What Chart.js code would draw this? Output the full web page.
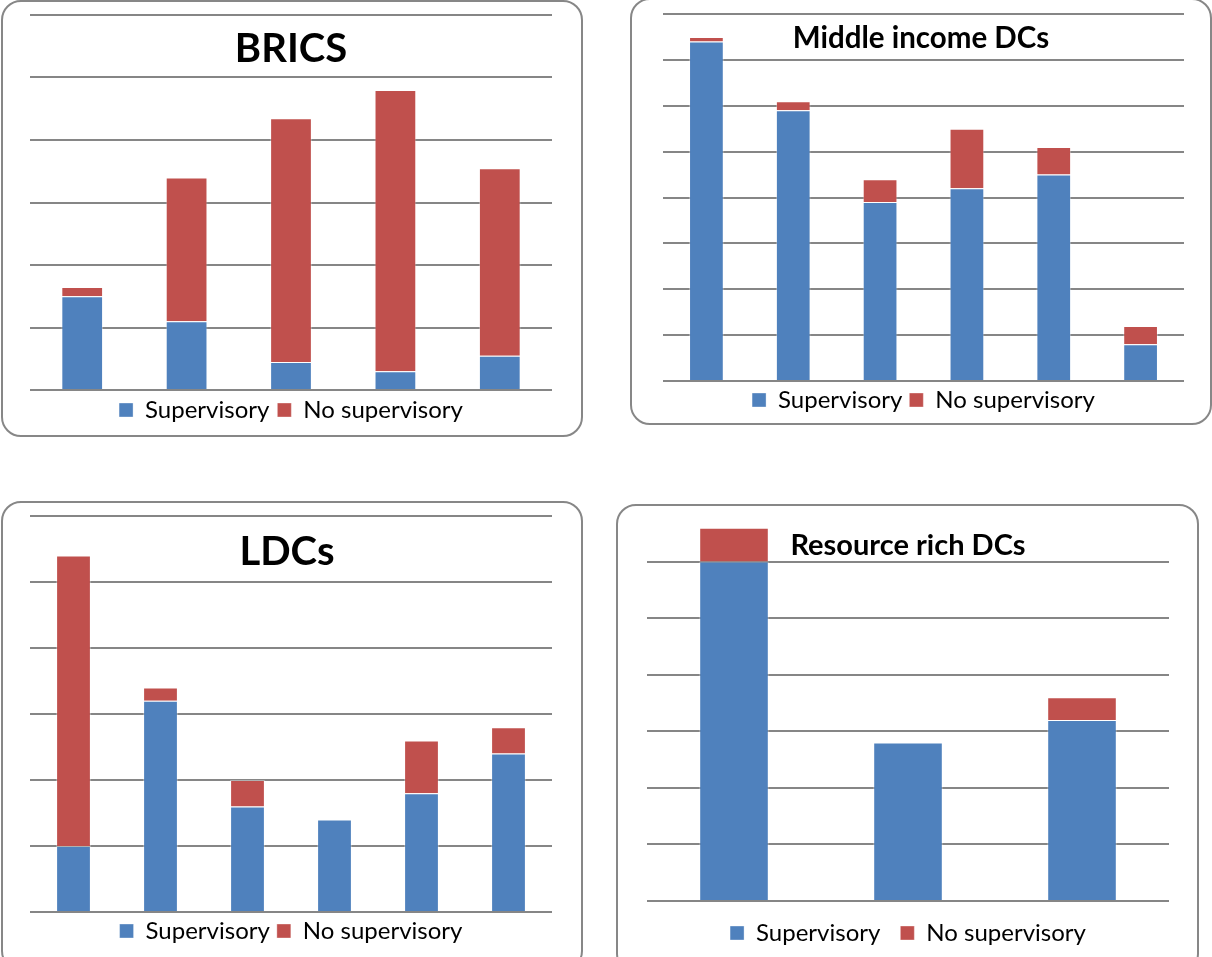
<!DOCTYPE html>
<html>
<head>
<meta charset="utf-8">
<script src="https://cdn.jsdelivr.net/npm/chart.js@4"></script>
<style>
  html, body { margin: 0; padding: 0; background: #fff; width: 1212px; height: 957px; overflow: hidden; }
  .panel { position: absolute; }
  .frame { position: absolute; box-sizing: border-box; border: 2px solid #878787; border-radius: 20px; pointer-events: none; }
</style>
</head>
<body>
<script>
// Series labels
const seriesNames = ['Supervisory', 'No supervisory'];

// BRICS
const bricsCats = ['C1', 'C2', 'C3', 'C4', 'C5'];
const bricsSup = [1.5, 1.1, 0.45, 0.3, 0.55];
const bricsNo = [0.15, 2.3, 3.9, 4.5, 3.0];

// Middle income DCs
const midCats = ['C1', 'C2', 'C3', 'C4', 'C5', 'C6'];
const midSup = [7.4, 5.9, 3.9, 4.2, 4.5, 0.8];
const midNo = [0.1, 0.2, 0.5, 1.3, 0.6, 0.4];

// LDCs
const ldcCats = ['C1', 'C2', 'C3', 'C4', 'C5', 'C6'];
const ldcSup = [1.0, 3.2, 1.6, 1.4, 1.8, 2.4];
const ldcNo = [4.4, 0.2, 0.4, 0, 0.8, 0.4];

// Resource rich DCs
const resCats = ['C1', 'C2', 'C3'];
const resSup = [6.0, 2.8, 3.2];
const resNo = [0.6, 0, 0.4];

const BLUE = '#4F81BD';
const RED = '#C0504D';
const GRID = '#868686';

// title drawn over the plot, like the Excel overlay title
const overlayTitle = {
    id: 'overlayTitle',
    afterDraw(chart, args, opts) {
        const ctx = chart.ctx;
        ctx.save();
        ctx.font = `bold ${opts.size}px Lato`;
        ctx.fillStyle = '#000';
        ctx.textAlign = 'center';
        ctx.textBaseline = 'alphabetic';
        ctx.fillText(opts.text, opts.x, opts.y);
        ctx.restore();
    }
};

function makePanel(p) {
    // p.box is the frame in page coords, p.plot the target chart area
    const wrap = document.createElement('div');
    wrap.className = 'panel';
    wrap.style.left = p.box.left + 'px';
    wrap.style.top = p.box.top + 'px';
    wrap.style.width = p.box.width + 'px';
    wrap.style.height = p.box.height + 'px';
    const canvas = document.createElement('canvas');
    wrap.appendChild(canvas);
    document.body.appendChild(wrap);

    const frame = document.createElement('div');
    frame.className = 'frame';
    frame.style.left = p.box.left + 'px';
    frame.style.top = p.box.top + 'px';
    frame.style.width = p.box.width + 'px';
    frame.style.height = p.box.height + 'px';
    document.body.appendChild(frame);

    const itemH = 24;
    const below = p.box.top + p.box.height - p.plot.bottom;
    const legPad = p.legendPad != null ? p.legendPad : Math.round(p.legendY - p.plot.bottom - itemH / 2);
    const legH = itemH + legPad + 10;

    new Chart(canvas, {
        type: 'bar',
        data: {
            labels: p.cats,
            datasets: [
                { label: seriesNames[0], data: p.sup, backgroundColor: BLUE, borderColor: 'rgba(255,255,255,0.35)', borderWidth: 1 },
                { label: seriesNames[1], data: p.no, backgroundColor: RED, borderColor: 'rgba(255,255,255,0.35)', borderWidth: 1 }
            ]
        },
        options: {
            responsive: true,
            maintainAspectRatio: false,
            animation: false,
            datasets: { bar: { barPercentage: 0.4, categoryPercentage: 1 } },
            layout: {
                padding: {
                    left: p.plot.left - p.box.left,
                    right: p.box.left + p.box.width - p.plot.right,
                    top: p.plot.top - p.box.top,
                    bottom: Math.max(0, below - legH)
                }
            },
            scales: {
                x: { stacked: true, display: false },
                y: {
                    stacked: true, min: 0, max: p.max,
                    ticks: { display: false, stepSize: 1 },
                    border: { display: false },
                    grid: {
                        drawTicks: false, lineWidth: 2,
                        color: c => (p.hideTop && c.tick.value === p.max) ? 'rgba(0,0,0,0)' : GRID
                    }
                }
            },
            plugins: {
                tooltip: { enabled: false },
                legend: {
                    position: 'bottom',
                    labels: { boxWidth: 14, boxHeight: 14, padding: legPad, color: '#000', font: { family: 'Lato', size: 24 } }
                },
                overlayTitle: { text: p.title, size: p.titleSize, x: p.titleX - p.box.left, y: p.titleY - p.box.top }
            }
        },
        plugins: [overlayTitle]
    });
}

makePanel({
    title: 'BRICS', titleSize: 40, titleX: 291, titleY: 62,
    cats: bricsCats, sup: bricsSup, no: bricsNo, max: 6,
    box: { left: 1, top: 0, width: 582, height: 437 },
    plot: { left: 30, right: 552, top: 15, bottom: 390 },
    legendY: 410
});
makePanel({
    title: 'Middle income DCs', titleSize: 29.5, titleX: 921, titleY: 48,
    cats: midCats, sup: midSup, no: midNo, max: 8,
    box: { left: 630, top: -2, width: 582, height: 427 },
    plot: { left: 663, right: 1184, top: 14, bottom: 381 },
    legendY: 397, legendPad: 7
});
makePanel({
    title: 'LDCs', titleSize: 40, titleX: 287, titleY: 565,
    cats: ldcCats, sup: ldcSup, no: ldcNo, max: 6,
    box: { left: 1, top: 501, width: 582, height: 470 },
    plot: { left: 30, right: 552, top: 516, bottom: 912 },
    legendY: 931
});
makePanel({
    title: 'Resource rich DCs', titleSize: 29, titleX: 908, titleY: 555,
    cats: resCats, sup: resSup, no: resNo, max: 7, hideTop: true,
    box: { left: 616, top: 504, width: 583, height: 470 },
    plot: { left: 647, right: 1169, top: 505, bottom: 901 },
    legendY: 933
});
</script>
</body>
</html>
